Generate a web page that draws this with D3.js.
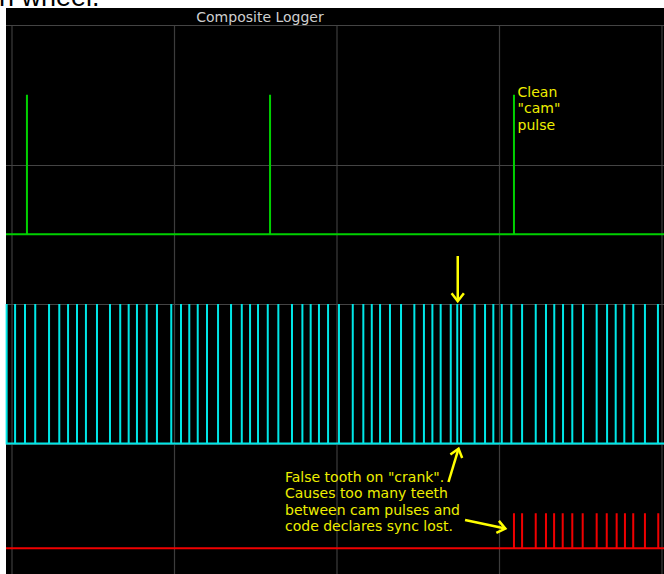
<!DOCTYPE html>
<html><head><meta charset="utf-8">
<script src="https://cdn.jsdelivr.net/npm/d3@7"></script>
<style>body{margin:0;background:#fff}svg{display:block}</style>
</head><body>
<svg id="c" width="664" height="574"></svg>
<script>
// ---- data (time units: 100 per vertical grid division) ----
const title = "Composite Logger";
const xTicks = [0, 100, 200, 300, 400];
const yTicks = [1, 2, 3, 4];
const camLevels = [2.5, 3.5];      // low, high
const crankLevels = [1.0, 2.0];
const syncLevels = [0.25, 0.5];
const camPulses = [9.2, 158.8, 308.9];
const crankTeeth = [-3.3, 1.9, 8.0, 14.3, 22.8, 29.1, 34.5, 40.0, 45.5, 52.3, 60.3, 66.6, 71.8, 76.9, 82.9, 89.2,
  98.0, 104.0, 109.1, 114.3, 120.0, 126.8, 134.8, 141.4, 146.5, 151.4, 157.4, 163.9, 172.3, 178.7, 183.8, 188.9, 194.5,
  201.2, 209.7, 216.2, 221.4, 226.5, 232.6, 239.4, 247.6, 253.5, 258.7, 263.8, 270.0, 274.0, 276.3, 284.7, 291.1, 296.2,
  301.4, 307.3, 313.9, 322.3, 328.6, 333.7, 339.1, 344.8, 351.4, 359.8, 366.2, 371.5, 376.8, 382.3, 389.5, 397.5];
const syncTeeth = [308.9, 313.9, 322.3, 328.6, 333.6, 338.9, 344.8, 351.2, 359.8, 366.0, 372.1, 377.2, 382.3, 389.5, 397.7];
const camNote = ["Clean", "\"cam\"", "pulse"];
const crankNote = ["False tooth on \"crank\".", "Causes too many teeth", "between cam pulses and", "code declares sync lost."];
const arrows = [
  {from: [274.3, 2.344], to: [274.3, 2.02]},
  {from: [268.6, 0.724], to: [274.8, 0.963]},
  {from: [278.8, 0.452], to: [303.6, 0.390]}
];

// ---- layout ----
const svg = d3.select("#c");
const W = 664, H = 574;
const panel = {x: 6, y: 8};
const x = d3.scaleLinear().domain([0, 400]).range([12, 662]);
const y = d3.scaleLinear().domain([0, 4]).range([583, 25]);
const tMin = x.invert(panel.x), tMax = x.invert(W);

// outside page text (cut off at the top, as in the reference)
svg.append("text").attr("x", -1).attr("y", 6)
  .attr("font-family", "Liberation Sans, Arial, sans-serif").attr("font-size", 27)
  .attr("fill", "#000").text("n wheel.");

svg.append("rect").attr("x", panel.x).attr("y", panel.y)
  .attr("width", W - panel.x).attr("height", H - panel.y).attr("fill", "#000");

// grid
const g = svg.append("g");
g.selectAll("line.v").data(xTicks).join("line")
  .attr("x1", d => x(d)).attr("x2", d => x(d)).attr("y1", y(4)).attr("y2", H)
  .attr("stroke", "#3c3c3c").attr("stroke-width", 1.2);
g.selectAll("line.h").data(yTicks).join("line")
  .attr("x1", panel.x).attr("x2", W).attr("y1", d => Math.round(y(d)) + 0.5).attr("y2", d => Math.round(y(d)) + 0.5)
  .attr("stroke", "#444").attr("stroke-width", 1.2);

svg.append("text").attr("x", 260).attr("y", 21.5).attr("text-anchor", "middle")
  .attr("font-family", "DejaVu Sans, sans-serif").attr("font-size", 14)
  .attr("fill", "#cfcfcf").text(title);

// trace builder
function pulsePoints(times, levels, start, end) {
  const [lo, hi] = levels;
  const pts = [[start, lo]];
  times.forEach(t => { pts.push([t, lo], [t, hi], [t, lo]); });
  pts.push([end, lo]);
  return pts;
}
const line = d3.line().x(d => x(d[0])).y(d => y(d[1]));

svg.append("path").attr("d", line(pulsePoints(camPulses, camLevels, tMin, tMax)))
  .attr("fill", "none").attr("stroke", "#00d000").attr("stroke-width", 2);
svg.append("path").attr("d", line(pulsePoints(crankTeeth, crankLevels, tMin, tMax)))
  .attr("fill", "none").attr("stroke", "#00e6e6").attr("stroke-width", 2);
svg.append("path").attr("d", line(pulsePoints(syncTeeth, syncLevels, tMin, tMax)))
  .attr("fill", "none").attr("stroke", "#f00000").attr("stroke-width", 2);

// annotations
const yellow = "#ffff00";
const tc = svg.append("text").attr("font-family", "DejaVu Sans, sans-serif").attr("font-size", 14).attr("fill", "#eeee00");
camNote.forEach((s, i) => tc.append("tspan").attr("x", x(311.1)).attr("y", y(3.484) + i * 16.4).text(s));
const tk = svg.append("text").attr("font-family", "DejaVu Sans, sans-serif").attr("font-size", 14).attr("fill", "#eeee00");
crankNote.forEach((s, i) => tk.append("tspan").attr("x", x(168)).attr("y", y(0.726) + i * 16.45).text(s));

arrows.forEach(a => {
  const x1 = x(a.from[0]), y1 = y(a.from[1]), x2 = x(a.to[0]), y2 = y(a.to[1]);
  const ang = Math.atan2(y2 - y1, x2 - x1);
  const L = 10, h = 38 * Math.PI / 180;
  const p1 = [x2 - L * Math.cos(ang - h), y2 - L * Math.sin(ang - h)];
  const p2 = [x2 - L * Math.cos(ang + h), y2 - L * Math.sin(ang + h)];
  svg.append("line").attr("x1", x1).attr("y1", y1).attr("x2", x2).attr("y2", y2)
    .attr("stroke", yellow).attr("stroke-width", 2.5);
  svg.append("path").attr("d", d3.line()([p1, [x2, y2], p2]))
    .attr("fill", "none").attr("stroke", yellow).attr("stroke-width", 2.5);
});
</script>
</body></html>
